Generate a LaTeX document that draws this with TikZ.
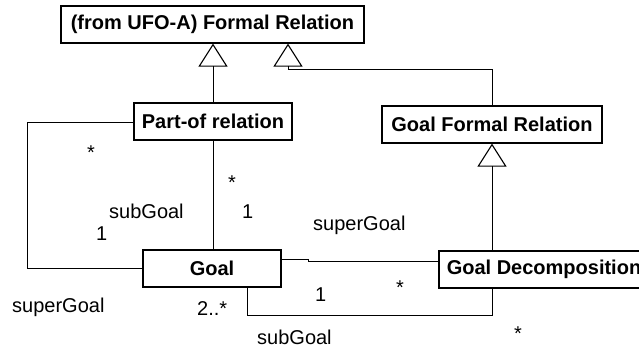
\documentclass[tikz,border=0pt]{standalone}
\usepackage{fontspec}
\setmainfont{Liberation Sans}
\usetikzlibrary{arrows.meta}
\begin{document}
\begin{tikzpicture}[x=1pt,y=-1pt,
  font=\fontsize{20}{24}\selectfont,
  classbox/.style={draw,line width=1.2pt,fill=white,inner sep=0pt,
    minimum height=37pt,font=\fontsize{20}{24}\selectfont\bfseries},
  assoc/.style={line width=0.9pt},
  gen/.style={line width=0.9pt,-{Triangle[open,length=23pt,width=29pt,line width=1.1pt]}},
  lbl/.style={inner sep=0pt,anchor=base west},
  mult/.style={inner sep=0pt,anchor=base}]
\useasboundingbox (0,0) rectangle (639,348);
\clip (0,0) rectangle (639,348);

% classes
\node[classbox,minimum width=303pt] (ufo) at (212.5,24.5) {(from UFO-A) Formal Relation};
\node[classbox,minimum width=158pt] (pof) at (213,121.5) {Part-of relation};
\node[classbox,minimum width=220pt] (gfr) at (492,124.5) {Goal Formal Relation};
\node[classbox,minimum width=138pt] (goal) at (212,268.5) {Goal};
\node[classbox,minimum width=210pt] (gd) at (544,269.5) {Goal Decomposition};

% generalizations
\coordinate (bend) at (288,69);
\coordinate (rc) at (492,315);
\draw[gen] (pof.north) -- (pof.north |- ufo.south);
\draw[gen] (gfr.north) |- (bend) -- (bend |- ufo.south);
\draw[gen] (rc |- gd.north) -- (gfr.south);

% associations
\coordinate (lp) at (27,122);
\coordinate (j1) at (308,259);
\coordinate (j2) at (308,261);
\coordinate (lc) at (247,315);
\draw[assoc] (pof.south) -- (pof.south |- goal.north);
\draw[assoc] (pof.west |- lp) -- (lp) |- (goal.west);
\draw[assoc] (goal.east |- j1) -- (j1) -- (j2) -- (j2 -| gd.west);
\draw[assoc] (lc |- goal.south) -- (lc) -- (rc) -- (rc |- gd.south);

% role names and multiplicities
\node[mult] (m1) at (91,159) {*};
\node[mult] (m2) at (232,189) {*};
\node[lbl] (m3) at (242,218) {1};
\node[lbl] (r1) at (109,218) {subGoal};
\node[lbl] (m4) at (96,240) {1};
\node[lbl] (r2) at (12,312) {superGoal};
\node[lbl] (m5) at (197,315) {2..*};
\node[lbl] (r3) at (257,344.5) {subGoal};
\node[lbl] (r4) at (313,230) {superGoal};
\node[lbl] (m6) at (315,301) {1};
\node[mult] (m7) at (400,294) {*};
\node[mult] (m8) at (518,340) {*};
\end{tikzpicture}
\end{document}
